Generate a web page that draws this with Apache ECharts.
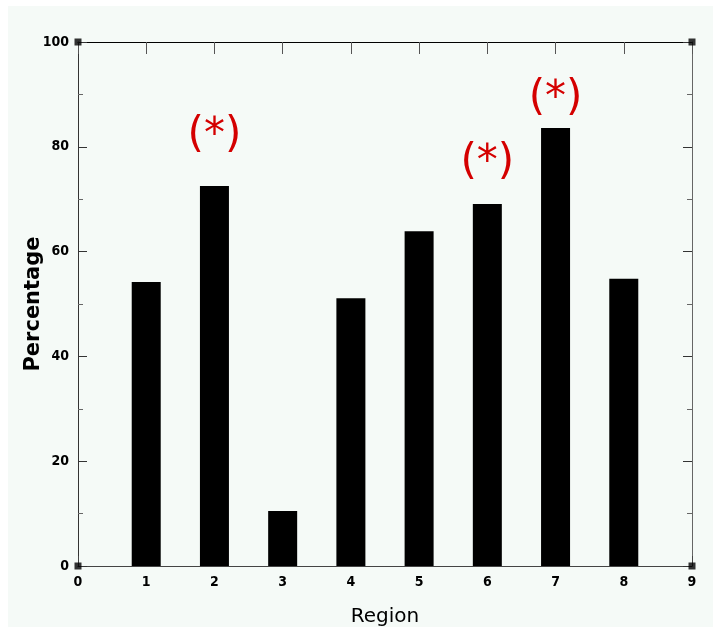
<!DOCTYPE html>
<html>
<head>
<meta charset="utf-8">
<script src="https://cdn.jsdelivr.net/npm/echarts@6/dist/echarts.min.js"></script>
<style>
  html, body { margin: 0; padding: 0; background: #ffffff; }
  #main { position: absolute; left: 8px; top: 6px; width: 705px; height: 621px; }
</style>
</head>
<body>
<div id="main"></div>
<script>
// 数据
var regions = [1, 2, 3, 4, 5, 6, 7, 8];
var percentages = [54.2, 72.5, 10.5, 51.1, 63.9, 69.1, 83.6, 54.8];
var marks = ['', '(*)', '', '', '', '(*)', '(*)', ''];
var corners = [[0, 0], [0, 100], [9, 0], [9, 100]];

// 标注与柱顶的间距（像素）
var markGap = { 1: 29, 5: 20, 6: 8 };

var tickFont = {
    color: '#000',
    fontFamily: 'DejaVu Sans Condensed, DejaVu Sans',
    fontWeight: 'bold',
    fontSize: 14
};

var barData = regions.map(function (r, i) {
    return {
        value: [r, percentages[i]],
        label: { show: marks[i] !== '', formatter: marks[i], distance: markGap[i] || 20 }
    };
});

var myChart = echarts.init(document.getElementById('main'));
var option = {
    backgroundColor: '#f5faf7',
    animation: false,
    grid: { left: 70, right: 21, top: 36, bottom: 61, outerBoundsMode: 'none' },
    xAxis: [{
        type: 'value',
        min: 0, max: 9, interval: 1,
        position: 'bottom',
        name: 'Region',
        nameLocation: 'middle',
        nameGap: 41,
        nameTextStyle: { color: '#000', fontFamily: 'DejaVu Sans', fontSize: 20 },
        axisLine: { show: true, onZero: false, lineStyle: { color: '#444', width: 1 } },
        axisTick: { show: true, inside: true, length: 10, lineStyle: { color: '#444' } },
        axisLabel: Object.assign({ margin: 9 }, tickFont),
        splitLine: { show: false }
    }, {
        type: 'value',
        min: 0, max: 9, interval: 1,
        position: 'top',
        axisLine: { show: true, onZero: false, lineStyle: { color: '#000', width: 1 } },
        axisTick: { show: true, inside: true, length: 12, lineStyle: { color: '#555' } },
        axisLabel: { show: false },
        splitLine: { show: false }
    }],
    yAxis: [{
        type: 'value',
        min: 0, max: 100, interval: 20,
        position: 'left',
        name: 'Percentage',
        nameLocation: 'middle',
        nameGap: 34,
        nameMoveOverlap: false,
        nameTextStyle: { color: '#000', fontFamily: 'DejaVu Sans', fontWeight: 'bold', fontSize: 21 },
        axisLine: { show: true, onZero: false, lineStyle: { color: '#333', width: 1 } },
        axisTick: { show: true, inside: true, length: 9, lineStyle: { color: '#333' } },
        minorTick: { show: true, splitNumber: 2, length: 5, lineStyle: { color: '#666' } },
        axisLabel: Object.assign({ margin: 9 }, tickFont),
        splitLine: { show: false }
    }, {
        type: 'value',
        min: 0, max: 100, interval: 20,
        position: 'right',
        axisLine: { show: true, onZero: false, lineStyle: { color: '#666', width: 1 } },
        axisTick: { show: true, inside: true, length: 9, lineStyle: { color: '#333' } },
        minorTick: { show: true, splitNumber: 2, length: 5, lineStyle: { color: '#666' } },
        axisLabel: { show: false },
        splitLine: { show: false }
    }],
    series: [{
        type: 'bar',
        xAxisIndex: 0,
        yAxisIndex: 0,
        barWidth: 29,
        itemStyle: { color: '#000' },
        label: {
            position: 'top',
            color: '#d40000',
            fontFamily: 'DejaVu Sans',
            fontSize: 42
        },
        data: barData
    }, {
        type: 'scatter',
        xAxisIndex: 0,
        yAxisIndex: 0,
        symbol: 'rect',
        symbolSize: 7,
        itemStyle: { color: '#000' },
        silent: true,
        data: corners
    }]
};
myChart.setOption(option);
window.addEventListener('resize', function () {
    myChart.resize();
});
</script>
</body>
</html>
